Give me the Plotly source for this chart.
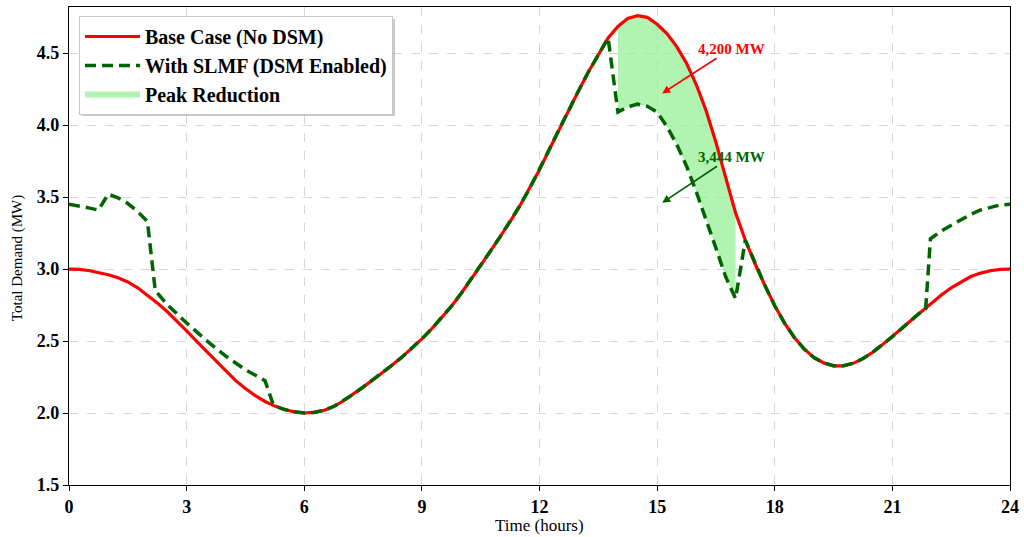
import numpy as np
import plotly.graph_objects as go

# ---------------- data ----------------
time_step = 0.25
base_demand = [
    3.000, 2.998, 2.990, 2.977, 2.960, 2.940, 2.910, 2.870,   # 0 - 1.75
    2.820, 2.765, 2.705, 2.640, 2.570, 2.500, 2.430, 2.360,   # 2 - 3.75
    2.290, 2.225, 2.170, 2.120, 2.080, 2.048, 2.024, 2.008,   # 4 - 5.75
    2.000, 2.004, 2.018, 2.045, 2.085, 2.130, 2.180, 2.230,   # 6 - 7.75
    2.280, 2.335, 2.390, 2.450, 2.515, 2.585, 2.660, 2.740,   # 8 - 9.75
    2.830, 2.925, 3.025, 3.125, 3.225, 3.330, 3.440, 3.560,   # 10 - 11.75
    3.690, 3.830, 3.970, 4.110, 4.240, 4.370, 4.490, 4.605,   # 12 - 13.75
    4.685, 4.740, 4.760, 4.748, 4.700, 4.635, 4.545, 4.430,   # 14 - 15.75
    4.280, 4.100, 3.880, 3.625, 3.390, 3.200, 3.035, 2.885,   # 16 - 17.75
    2.745, 2.625, 2.525, 2.445, 2.385, 2.348, 2.328, 2.328,   # 18 - 19.75
    2.345, 2.378, 2.422, 2.475, 2.530, 2.590, 2.650, 2.708,   # 20 - 21.75
    2.765, 2.820, 2.870, 2.912, 2.948, 2.972, 2.988, 2.997,   # 22 - 23.75
    3.000,                                                    # 24
]

# SLMF (DSM enabled): shifted-load windows; elsewhere equal to the base case
slmf_night_t = [0, 0.25, 0.5, 0.75, 1.0, 1.25, 1.5, 1.75, 2.0, 2.2, 2.5, 3.0, 3.5, 4.0, 4.5, 5.0, 5.2]
slmf_night_v = [3.45, 3.44, 3.425, 3.41, 3.52, 3.495, 3.455, 3.40, 3.33, 2.85, 2.755, 2.625, 2.505,
                2.395, 2.30, 2.225, 2.065]
slmf_peak_t = [14.0, 14.25, 14.5, 14.75, 15.0, 15.25, 15.5, 15.75, 16.0, 16.25, 16.5, 16.75, 17.0]
slmf_peak_v = [4.09, 4.125, 4.145, 4.13, 4.09, 3.99, 3.865, 3.715, 3.535, 3.345, 3.145, 2.945, 2.795]
slmf_evening_t = [21.85, 21.97, 22.25, 22.5, 22.75, 23.0, 23.25, 23.5, 23.75, 24.0]
slmf_evening_v = [2.725, 3.21, 3.265, 3.305, 3.345, 3.38, 3.41, 3.43, 3.445, 3.45]

x_ticks = [0, 3, 6, 9, 12, 15, 18, 21, 24]
y_ticks = [1.5, 2.0, 2.5, 3.0, 3.5, 4.0, 4.5]

peak_label_base = "4,200 MW"
peak_label_slmf = "3,444 MW"

# ---------------- build series ----------------
t = np.arange(len(base_demand)) * time_step
base = np.array(base_demand)

pts = {}
for ti, vi in zip(t, base):
    if ti < 5.25 or (13.75 < ti < 17.25) or ti > 21.75:
        continue
    pts[round(float(ti), 3)] = float(vi)
for tt, vv in zip(slmf_night_t + slmf_peak_t + slmf_evening_t,
                  slmf_night_v + slmf_peak_v + slmf_evening_v):
    pts[round(float(tt), 3)] = float(vv)
slmf_t = sorted(pts)
slmf_v = [pts[k] for k in slmf_t]

# fill region between base and SLMF in the peak window
mask = (t >= slmf_peak_t[0] - 1e-9) & (t <= slmf_peak_t[-1] + 1e-9)
fill_x = list(t[mask]) + list(slmf_peak_t[::-1])
fill_y = list(base[mask]) + list(slmf_peak_v[::-1])

FONT = "Liberation Serif"

fig = go.Figure()
fig.add_trace(go.Scatter(
    x=fill_x, y=fill_y, fill="toself", mode="none",
    fillcolor="rgba(144,238,144,0.70)", name="Peak Reduction", legendrank=3,
    hoverinfo="skip",
))
fig.add_trace(go.Scatter(
    x=t, y=base, mode="lines", name="Base Case (No DSM)",
    line=dict(color="#ff0000", width=3.2), legendrank=1,
))
fig.add_trace(go.Scatter(
    x=slmf_t, y=slmf_v, mode="lines", name="With SLMF (DSM Enabled)",
    line=dict(color="#006400", width=3.5, dash="11px,6px"), legendrank=2,
))

fig.add_annotation(
    x=15.13, y=4.22, ax=16.89, ay=4.53, xref="x", yref="y", axref="x", ayref="y",
    text=peak_label_base, showarrow=True, arrowhead=2, arrowsize=1, arrowwidth=1.6,
    arrowcolor="#ff0000", font=dict(family=FONT, size=15, color="#ff0000", weight="bold"),
)
fig.add_annotation(
    x=15.13, y=3.46, ax=16.89, ay=3.78, xref="x", yref="y", axref="x", ayref="y",
    text=peak_label_slmf, showarrow=True, arrowhead=2, arrowsize=1, arrowwidth=1.6,
    arrowcolor="#006400", font=dict(family=FONT, size=15, color="#006400", weight="bold"),
)

# axis titles as positioned text
fig.add_annotation(
    x=0.5, y=-0.084, xref="paper", yref="paper", xanchor="center", yanchor="middle",
    text="Time (hours)", showarrow=False, font=dict(family=FONT, size=17, color="black"),
)
fig.add_annotation(
    x=-0.054, y=0.475, xref="paper", yref="paper", xanchor="center", yanchor="middle",
    text="Total Demand (MW)", textangle=-90, showarrow=False,
    font=dict(family=FONT, size=15, color="black"),
)

# soft shadow behind the legend box
fig.add_shape(type="rect", xref="paper", yref="paper", layer="above",
              x0=(82 - 69) / 941, x1=(395 - 69) / 941,
              y0=1 - (116 - 7) / 478, y1=1 - (19 - 7) / 478,
              line=dict(width=0), fillcolor="rgba(140,140,140,0.45)")

axis_common = dict(
    showline=True, linecolor="black", linewidth=1.3, mirror=True,
    ticks="outside", ticklen=5, tickwidth=1.2, tickcolor="black",
    showgrid=True, gridcolor="#d6d6d6", griddash="dash", gridwidth=1,
    zeroline=False, automargin=False,
    tickfont=dict(family=FONT, size=18, color="black", weight="bold"),
)

fig.update_xaxes(range=[0, 24], tickvals=x_ticks, ticktext=[str(v) for v in x_ticks],
                 **axis_common)
fig.update_yaxes(range=[1.5, 4.82], tickvals=y_ticks, ticktext=[f"{v:.1f}" for v in y_ticks],
                 **axis_common)

fig.update_layout(
    width=1024, height=537,
    margin=dict(l=69, r=14, t=7, b=52),
    paper_bgcolor="white", plot_bgcolor="white",
    font=dict(family=FONT, color="black"),
    showlegend=True,
    legend=dict(
        x=(79 - 69) / 941, y=1 - (16 - 7) / 478, xanchor="left", yanchor="top",
        bgcolor="white", bordercolor="#c8c8c8", borderwidth=1,
        font=dict(family=FONT, size=20, color="black", weight="bold"),
        itemwidth=55, tracegroupgap=0,
    ),
)

fig.write_html("out.html", config={"displayModeBar": False},
               post_script="document.body.style.margin='0px';")
